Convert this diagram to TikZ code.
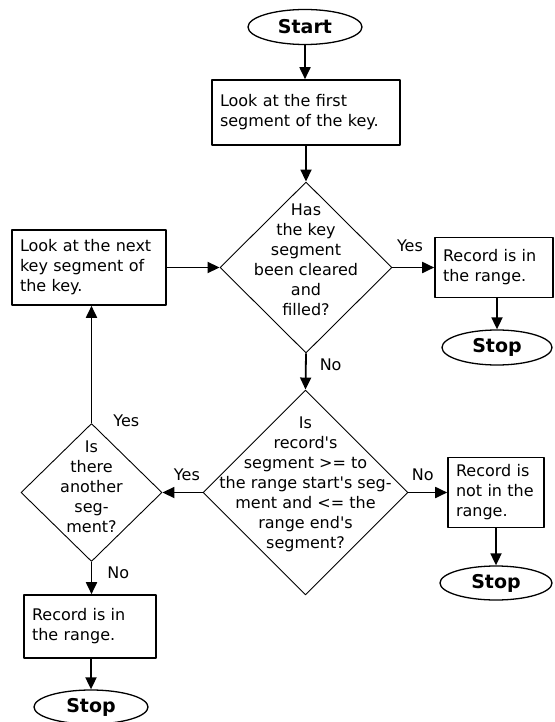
\documentclass[tikz,border=0pt]{standalone}
\usepackage{fontspec}
\setmainfont{DejaVu Sans}
\usetikzlibrary{shapes.geometric,arrows.meta}

\tikzset{
	box/.style={draw, line width=1.6pt, align=left, inner xsep=8pt, inner ysep=0pt, font=\fontsize{16}{20}\selectfont},
	terminal/.style={ellipse, draw, line width=1.3pt, inner sep=0pt, font=\fontsize{19}{22}\selectfont\bfseries},
	decision/.style={diamond, draw, line width=0.9pt, inner sep=0pt},
	dtext/.style={align=center, inner sep=0pt, font=\fontsize{16}{20}\selectfont},
	lab/.style={inner sep=0pt, font=\fontsize{16}{20}\selectfont},
	flow/.style={->, line width=1.8pt},
}

\begin{document}
\begin{tikzpicture}[x=1pt, y=-1pt, >={Triangle[width=11pt,length=12pt]}, line join=round]
	\useasboundingbox (0,0) rectangle (554,722);
	% top of the chart
	\node[terminal, minimum width=114pt, minimum height=35pt] (start) at (305,27) {Start};
	\node[box, text width=172pt, minimum height=65pt] (first) at (306,112.5) {Look at the first\\segment of the key.};
	\node[decision, minimum width=172pt, minimum height=171pt,
		label={[dtext,yshift=8pt]center:Has\\the key\\segment\\been cleared\\and\\filled?}] (keychk) at (306,267.5) {};
	\node[box, text width=138pt, minimum height=75pt] (nextseg) at (89,267.5) {Look at the next\\key segment of\\the key.};
	\node[box, text width=102pt, minimum height=60pt] (inrange) at (494,267.5) {Record is in\\the range.};
	\node[terminal, minimum width=110pt, minimum height=35pt] (stopa) at (497,347.5) {Stop};
	% range test
	\node[decision, minimum width=205pt, minimum height=205pt,
		label={[dtext,yshift=8pt]center:Is\\record\textquotesingle s\\segment >= to\\the range start\textquotesingle s seg-\\ment and <= the\\range end\textquotesingle s\\segment?}] (rangechk) at (305.5,492.5) {};
	\node[box, text width=80pt, minimum height=70pt] (notin) at (496,492.5) {Record is\\not in the\\range.};
	\node[terminal, minimum width=112pt, minimum height=34pt] (stopb) at (496,583) {Stop};
	\node[decision, minimum width=141pt, minimum height=138pt,
		label={[dtext,yshift=6pt]center:Is\\there\\another\\seg-\\ment?}] (morechk) at (91.5,492.5) {};
	\node[box, text width=116pt, minimum height=63pt] (inrangeb) at (90,626.5) {Record is in\\the range.};
	\node[terminal, minimum width=114pt, minimum height=34pt] (stopc) at (91,707) {Stop};
	% connectors
	\draw[flow] (start) -- (start |- first.north);
	\draw[flow] (first.south) -- (keychk.north);
	\draw[flow] (keychk.east) -- node[lab, pos=.42, above=15pt]{Yes} (inrange.west);
	\draw[flow] (stopa |- inrange.south) -- (stopa.north);
	\draw[flow] (keychk.south) -- node[lab, pos=.3, right=13pt]{No} (rangechk.north);
	\draw[flow] (rangechk.east) -- node[lab, pos=.37, above=11pt]{No} (notin.west);
	\draw[flow] (notin.south) -- (stopb.north);
	\draw[flow] (rangechk.west) -- node[lab, pos=.39, above=11pt]{Yes} (morechk.east);
	\draw[flow] (morechk.north) -- node[lab, pos=0, right=21pt, yshift=2pt]{Yes} (morechk.north |- nextseg.south);
	\draw[flow] (nextseg.east) -- (keychk.west);
	\draw[flow] (morechk.south) -- node[lab, pos=.33, right=15pt]{No} (morechk.south |- inrangeb.north);
	\draw[flow] (stopc |- inrangeb.south) -- (stopc.north);
\end{tikzpicture}
\end{document}
